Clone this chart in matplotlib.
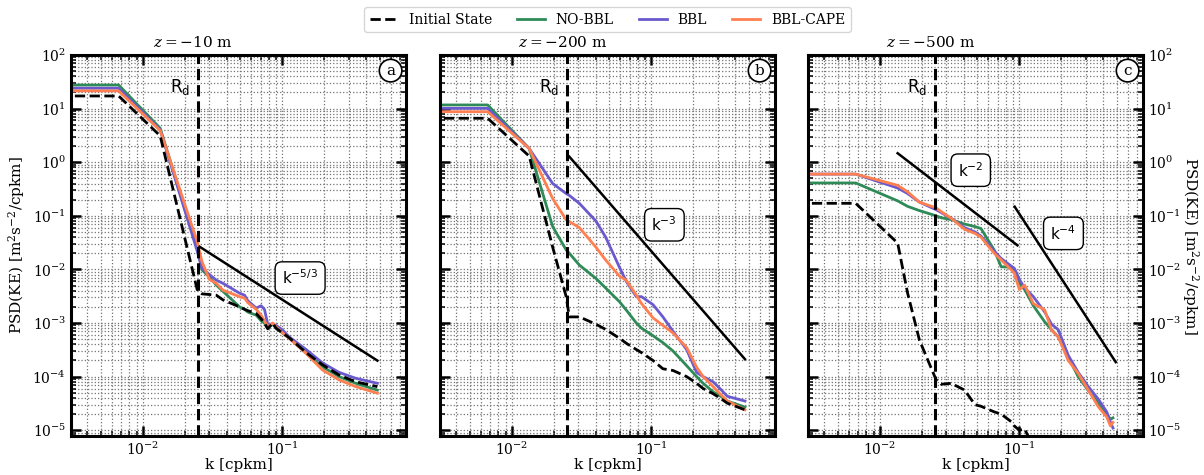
import numpy as np
import matplotlib
matplotlib.use('Agg')
import matplotlib.pyplot as plt
from matplotlib.ticker import FixedLocator, NullFormatter

plt.rcParams['font.family'] = 'serif'
plt.rcParams['font.serif'] = ['DejaVu Serif']
plt.rcParams['mathtext.fontset'] = 'dejavuserif'

# wavenumbers [cpkm] and spectra
# panel a, z = -10 m
k_a = [0.002, 0.0067, 0.0133, 0.0245, 0.0265, 0.030, 0.0336, 0.0375, 0.0493, 0.0536,
       0.0565, 0.0649, 0.0704, 0.0744, 0.0785, 0.0853, 0.0901, 0.1004, 0.112, 0.148,
       0.194, 0.255, 0.336, 0.48]
init_a = [17.2, 17.2, 3.1, 0.0042, 0.0035, 0.0034, 0.0033, 0.0027, 0.0020, 0.0018,
          0.0017, 0.0015, 0.0012, 0.0010, 7.8e-4, 1.0e-3, 8e-4, 6.5e-4, 5.3e-4, 2.8e-4,
          1.66e-4, 1.07e-4, 8.0e-5, 6.5e-5]
nobbl_a = [27.5, 27.5, 4.3, 0.025, 0.0098, 0.0072, 0.0051, 0.0039, 0.0020, 0.0018,
           0.0016, 0.0014, 0.0011, 0.0010, 8e-4, 9.5e-4, 8e-4, 6.5e-4, 5.2e-4, 2.8e-4,
           1.53e-4, 1.0e-4, 7.5e-5, 5.6e-5]
bbl_a = [24, 24, 4.0, 0.022, 0.0105, 0.0080, 0.0063, 0.0055, 0.0036, 0.0033,
         0.0026, 0.0019, 0.0021, 0.0018, 9.5e-4, 9.5e-4, 9.0e-4, 7.4e-4, 5.5e-4, 3.2e-4,
         1.8e-4, 1.2e-4, 9.3e-5, 7.5e-5]
cape_a = [21.4, 21.4, 3.9, 0.033, 0.014, 0.0065, 0.0055, 0.0041, 0.0031, 0.0029,
          0.0024, 0.0018, 0.0014, 0.0011, 8.5e-4, 1.0e-3, 8.5e-4, 6.5e-4, 5.2e-4, 2.7e-4,
          1.33e-4, 8.7e-5, 6.5e-5, 4.9e-5]

# panel b, z = -200 m
k_b = [0.002, 0.0067, 0.0133, 0.0196, 0.0245, 0.0258, 0.0305, 0.040, 0.047, 0.059,
       0.066, 0.078, 0.085, 0.1027, 0.121, 0.143, 0.179, 0.211, 0.235, 0.277,
       0.31, 0.35, 0.469]
init_b = [6.6, 6.6, 1.3, 0.026, 0.0031, 0.0013, 0.0013, 9.5e-4, 7.6e-4, 5.2e-4,
          4.2e-4, 3.2e-4, 2.8e-4, 2.0e-4, 1.4e-4, 1.3e-4, 1.0e-4, 7.5e-5, 6e-5, 4.8e-5,
          4e-5, 3.2e-5, 2.4e-5]
nobbl_b = [11.7, 11.7, 1.8, 0.063, 0.023, 0.020, 0.012, 0.0068, 0.0045, 0.0025,
           0.00175, 1.0e-3, 8e-4, 5.8e-4, 4.3e-4, 3.0e-4, 1.6e-4, 1.0e-4, 7.5e-5, 5.2e-5,
           4.4e-5, 3.5e-5, 2.7e-5]
bbl_b = [10.1, 10.1, 1.8, 0.40, 0.26, 0.24, 0.17, 0.08, 0.04, 0.011,
         0.006, 0.0031, 0.0031, 0.0022, 0.0013, 7e-4, 3.2e-4, 1.2e-4, 1.0e-4, 8e-5,
         6e-5, 4.3e-5, 3.5e-5]
cape_b = [8.75, 8.75, 1.8, 0.21, 0.084, 0.078, 0.06, 0.026, 0.015, 0.0075,
          0.0063, 0.0033, 0.0023, 0.00125, 9e-4, 6.5e-4, 3.5e-4, 1.5e-4, 1.0e-4, 6.5e-5,
          4.8e-5, 3.5e-5, 2.4e-5]

# panel c, z = -500 m
k_c = [0.002, 0.0067, 0.0134, 0.0158, 0.0192, 0.0253, 0.0275, 0.0324, 0.0405, 0.048,
       0.053, 0.066, 0.074, 0.0875, 0.092, 0.1, 0.109, 0.126, 0.152, 0.17,
       0.19, 0.224, 0.264, 0.312, 0.368, 0.423, 0.45, 0.469]
init_c = [0.171, 0.171, 0.031, 0.0036, 4.8e-4, 8.7e-5, 7.2e-5, 7.5e-5, 5.6e-5, 3.0e-5,
          2.8e-5, 2.2e-5, 2.0e-5, 1.44e-5, 1.2e-5, 1.0e-5, 1.05e-5, 5e-6, np.nan, np.nan,
          np.nan, np.nan, np.nan, np.nan, np.nan, np.nan, np.nan, np.nan]
nobbl_c = [0.41, 0.41, 0.19, 0.15, 0.125, 0.10, 0.092, 0.085, 0.07, 0.063,
           0.058, 0.023, 0.0112, 0.011, 0.0095, 0.0055, 0.0042, 0.0021, 0.00105, 7.5e-4,
           5.5e-4, 2.3e-4, 1.0e-4, 5.5e-5, 3.2e-5, 2e-5, 1.6e-5, 1.7e-5]
bbl_c = [0.60, 0.60, 0.33, 0.26, 0.18, 0.13, 0.115, 0.09, 0.06, 0.05,
         0.042, 0.022, 0.016, 0.0115, 0.0105, 0.0065, 0.0045, 0.0031, 0.0016, 9.5e-4,
         7.5e-4, 2.5e-4, 1.2e-4, 6.5e-5, 3.8e-5, 2.2e-5, 1.4e-5, 1.1e-5]
cape_c = [0.60, 0.60, 0.37, 0.28, 0.18, 0.14, 0.12, 0.09, 0.056, 0.047,
          0.04, 0.02, 0.015, 0.0098, 0.0085, 0.0042, 0.0051, 0.0023, 0.00175, 7.4e-4,
          5.5e-4, 2.0e-4, 1.15e-4, 5.6e-5, 2.75e-5, 1.77e-5, 1.2e-5, 1.4e-5]

depths = [-10, -200, -500]
letters = ['a', 'b', 'c']
Rd = 0.025

# reference slopes: (k start, k end, value at start, exponent, label, label k, label value)
slopes = [
    [(0.0255, 0.48, 0.0265, -5/3, r'$\mathsf{k^{-5/3}}$', 0.134, 0.0069)],
    [(0.0258, 0.469, 1.27, -3, r'$\mathsf{k^{-3}}$', 0.124, 0.068)],
    [(0.0134, 0.0968, 1.47, -2, r'$\mathsf{k^{-2}}$', 0.0448, 0.71),
     (0.0925, 0.491, 0.148, -4, r'$\mathsf{k^{-4}}$', 0.207, 0.047)],
]

colors = {'init': 'black', 'nobbl': '#2e8b57', 'bbl': '#6a5acd', 'cape': '#ff7f50'}

xmin, xmax = 0.00305, 0.77
ymin, ymax = 7.8e-6, 100


def log_ticks(lo, hi, minor=False):
    subs = range(2, 10) if minor else [1]
    t = [m * 10.0 ** e for e in range(-7, 4) for m in subs]
    return [v for v in t if lo <= v <= hi]


def draw_panel(ax, k, init, nobbl, bbl, cape, lines, depth, letter):
    ax.plot(k, nobbl, color=colors['nobbl'], lw=2, label='NO-BBL')
    ax.plot(k, bbl, color=colors['bbl'], lw=2, label='BBL')
    ax.plot(k, cape, color=colors['cape'], lw=2, label='BBL-CAPE')
    ax.plot(k, init, color=colors['init'], lw=2, ls='--', label='Initial State')
    ax.axvline(Rd, color='k', ls='--', lw=2.2)
    for k0, k1, p0, n, lab, lx, ly in lines:
        kk = np.array([k0, k1])
        ax.plot(kk, p0 * (kk / k0) ** n, color='k', lw=1.8)
        ax.text(lx, ly, lab, ha='center', va='center', fontsize=11,
                bbox=dict(boxstyle='round,pad=0.45', fc='white', ec='k', lw=1))
    ax.text(0.0185, 25, r'$\mathsf{R_d}$', ha='center', va='center', fontsize=12)
    ax.text(0.954, 0.959, letter, transform=ax.transAxes, ha='center', va='center',
            fontsize=11, bbox=dict(boxstyle='circle,pad=0.28', fc='white', ec='k', lw=1.2))
    ax.set_xscale('log')
    ax.set_yscale('log')
    ax.xaxis.set_major_locator(FixedLocator(log_ticks(xmin, xmax)))
    ax.xaxis.set_minor_locator(FixedLocator(log_ticks(xmin, xmax, True)))
    ax.yaxis.set_major_locator(FixedLocator(log_ticks(ymin, ymax)))
    ax.yaxis.set_minor_locator(FixedLocator(log_ticks(ymin, ymax, True)))
    ax.xaxis.set_minor_formatter(NullFormatter())
    ax.yaxis.set_minor_formatter(NullFormatter())
    ax.set_xlim(xmin, xmax)
    ax.set_ylim(ymin, ymax)
    ax.grid(True, which='both', color='0.45', lw=0.9, ls=':')
    ax.tick_params(which='both', direction='in', top=True, right=True, labelsize=10)
    ax.tick_params(which='major', length=7, width=1.8)
    ax.tick_params(which='minor', length=3.5, width=1.1)
    for s in ax.spines.values():
        s.set_linewidth(2.2)
    ax.set_xlabel('k [cpkm]', fontsize=11, labelpad=0)
    ax.set_title(r'$z = %d$ m' % depth, x=0.365, fontsize=11, pad=6)


fig = plt.figure(figsize=(12.04, 4.75))
lefts = [71 / 1204, 440 / 1204, 808 / 1204]
data = [(k_a, init_a, nobbl_a, bbl_a, cape_a),
        (k_b, init_b, nobbl_b, bbl_b, cape_b),
        (k_c, init_c, nobbl_c, bbl_c, cape_c)]
axes = []
for i in range(3):
    ax = fig.add_axes([lefts[i], 1 - 436 / 475, 335 / 1204, 381 / 475])
    draw_panel(ax, *data[i], slopes[i], depths[i], letters[i])
    axes.append(ax)

ylab = r'PSD(KE) [m$^2$s$^{-2}$/cpkm]'
axes[0].set_ylabel(ylab, fontsize=11)
axes[1].tick_params(labelleft=False)
axes[2].tick_params(labelleft=False, labelright=True)
axes[2].yaxis.set_label_position('right')
axes[2].set_ylabel(ylab, fontsize=11, rotation=270, labelpad=14)

h, l = axes[0].get_legend_handles_labels()
order = [3, 0, 1, 2]
fig.legend([h[i] for i in order], [l[i] for i in order], loc='upper center',
           bbox_to_anchor=(0.5046, 1.0), ncol=4, fontsize=10, columnspacing=1.8)

fig.savefig('out.png', dpi=100)
